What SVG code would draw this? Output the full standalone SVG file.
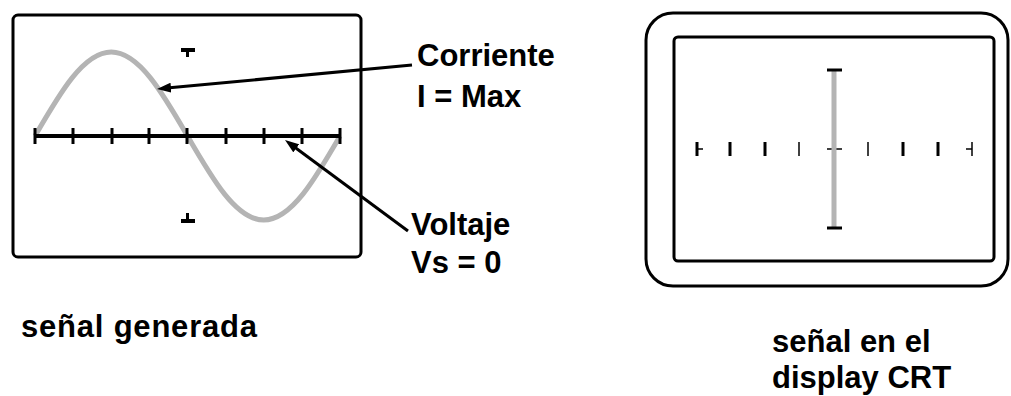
<svg xmlns="http://www.w3.org/2000/svg" width="1011" height="396" viewBox="0 0 1011 396">
  <style>
    .frame { fill: none; stroke: #000; stroke-width: 3; }
    .axis { stroke: #000; stroke-width: 4; fill: none; }
    .tick { stroke: #000; stroke-width: 3; }
    .thin { stroke: #000; stroke-width: 1.5; }
    .wave { fill: none; stroke: #b4b4b4; stroke-width: 5; }
    .conn { stroke: #000; stroke-width: 3; fill: none; }
    .lbl { font-family: "Liberation Sans", Arial, sans-serif; font-size: 31px; font-weight: bold; fill: #000; }
    .mark { fill: #000; }
  </style>
  <defs>
    <marker id="ah" viewBox="0 0 14 10" refX="4" refY="5" markerWidth="14" markerHeight="10" markerUnits="userSpaceOnUse" orient="auto">
      <path d="M0,0 L14,5 L0,10 z" fill="#000"/>
    </marker>
  </defs>
  <rect width="1011" height="396" fill="#fff"/>

  <g id="generated-signal">
    <rect class="frame" x="13" y="15" width="348" height="242" rx="5"/>
    <path class="wave" d="M35,136 C59.87,92.97 83.65,52 111.25,52 C138.85,52 162.63,92.97 187.5,136 C212.37,179.03 236.15,220 263.75,220 C291.35,220 315.13,179.03 340,136"/>
    <line class="axis" x1="35" y1="136" x2="340" y2="136"/>
    <g class="tick">
      <line x1="35" y1="128" x2="35" y2="144"/>
      <line x1="73" y1="128" x2="73" y2="144"/>
      <line x1="112" y1="128" x2="112" y2="144"/>
      <line x1="149" y1="128" x2="149" y2="144"/>
      <line x1="187" y1="128" x2="187" y2="144"/>
      <line x1="226" y1="128" x2="226" y2="144"/>
      <line x1="264" y1="128" x2="264" y2="144"/>
      <line x1="302" y1="128" x2="302" y2="144"/>
      <line x1="340" y1="128" x2="340" y2="144"/>
    </g>
    <rect class="mark" x="181" y="48" width="14" height="4"/>
    <rect class="mark" x="186" y="48" width="3" height="9"/>
    <rect class="mark" x="181" y="219" width="14" height="4"/>
    <rect class="mark" x="186" y="213" width="3" height="9"/>
    <text class="lbl" x="21" y="337" textLength="236" lengthAdjust="spacing">señal generada</text>
  </g>

  <g id="label-corriente">
    <text class="lbl" x="417" y="66">Corriente</text>
    <text class="lbl" x="417" y="107">I = Max</text>
  </g>

  <g id="label-voltaje">
    <text class="lbl" x="411" y="235">Voltaje</text>
    <text class="lbl" x="411" y="273">Vs = 0</text>
  </g>

  <g id="connectors">
    <line class="conn" x1="412" y1="65" x2="166.96" y2="88.06" marker-end="url(#ah)"/>
    <line class="conn" x1="408" y1="231" x2="293.05" y2="145.93" marker-end="url(#ah)"/>
  </g>

  <g id="crt-display">
    <rect class="frame" x="646" y="13" width="362" height="273" rx="27"/>
    <rect class="frame" x="674" y="37" width="320" height="224" rx="4"/>
    <line class="thin" x1="827" y1="149" x2="842" y2="149"/>
    <line x1="834" y1="70" x2="834" y2="228" stroke="#b4b4b4" stroke-width="5"/>
    <line x1="827" y1="70" x2="842" y2="70" stroke="#000" stroke-width="3"/>
    <line x1="827" y1="228" x2="842" y2="228" stroke="#000" stroke-width="3"/>
    <g class="tick">
      <line x1="697" y1="142" x2="697" y2="156"/>
      <line x1="730" y1="142" x2="730" y2="156"/>
      <line x1="765" y1="142" x2="765" y2="156"/>
      <line x1="903" y1="142" x2="903" y2="156"/>
      <line x1="938" y1="142" x2="938" y2="156"/>
    </g>
    <g class="thin">
      <line x1="799" y1="142" x2="799" y2="156"/>
      <line x1="868" y1="142" x2="868" y2="156"/>
      <line x1="972" y1="142" x2="972" y2="156"/>
      <line x1="697" y1="149" x2="703" y2="149"/>
      <line x1="966" y1="149" x2="972" y2="149"/>
    </g>
    <text class="lbl" x="772" y="352">señal en el</text>
    <text class="lbl" x="772" y="388">display CRT</text>
  </g>
</svg>
